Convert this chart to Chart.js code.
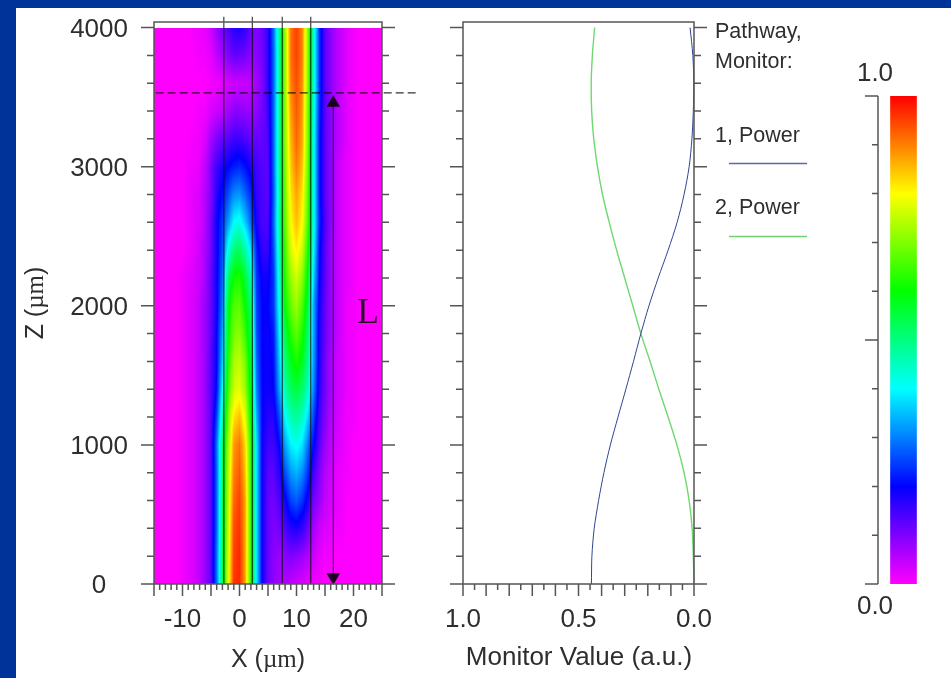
<!DOCTYPE html>
<html>
<head>
<meta charset="utf-8">
<title>Coupler power transfer</title>
<script src="https://cdn.jsdelivr.net/npm/chart.js@4"></script>
<style>
  html, body { margin: 0; height: 100%; background: #003399; overflow: hidden; }
  #panel { position: absolute; left: 16px; top: 8px; right: 0; bottom: 0; background: #fff; }
  canvas { position: absolute; top: 0; filter: blur(0.4px); }
</style>
</head>
<body>
<div id="panel"></div>
<canvas id="field" width="440" height="678" style="left:0"></canvas>
<canvas id="monitor" width="410" height="678" style="left:420px"></canvas>
<canvas id="scale" width="121" height="678" style="left:830px"></canvas>
<script>
// Field map, rows run from z = 0 up to z = 4000, columns from x = -15 to 25 (percent of max)
const heatX = [-15,-14,-13,-12,-11,-10,-9,-8,-7,-6,-5,-4,-3,-2,-1,0,1,2,3,4,5,6,7,8,9,10,11,12,13,14,15,16,17,18,19,20,21,22,23,24,25]
const heatZ = [0,200,400,600,800,1000,1200,1400,1600,1800,2000,2200,2400,2600,2800,3000,3200,3400,3600,3800,4000]
const heatValues = [
  [0,0,0,0,0, 1,2,3,5,8,13,29,53,78,96,97,87,63,38,19,11,9,7,6,5,4,3,2,1,1,0,0,0,0,0,0, 0,0,0,0,0],
  [0,0,0,0,0, 1,2,3,5,8,13,29,53,77,95,97,87,63,38,19,12,9,8,9,10,9,8,6,4,2,1,1,0,0,0,0, 0,0,0,0,0],
  [0,0,0,0,0, 1,2,3,5,8,13,28,52,76,94,96,87,63,38,19,12,10,11,14,17,18,16,12,7,4,3,2,1,1,0,0, 0,0,0,0,0],
  [0,0,0,0,0, 1,2,3,5,8,13,28,52,75,92,95,87,63,38,19,12,11,14,19,25,27,24,18,11,8,5,3,2,1,0,0, 0,0,0,0,0],
  [0,0,0,0,0, 1,2,3,5,8,13,28,51,74,90,93,85,63,38,19,13,13,17,26,32,34,31,24,15,10,6,4,2,1,1,0, 0,0,0,0,0],
  [0,0,0,0,0, 1,2,3,5,8,13,29,51,72,88,91,83,63,38,19,15,15,20,33,39,41,38,29,20,13,8,5,3,2,1,0, 0,0,0,0,0],
  [0,0,0,0,0, 1,2,3,5,8,13,25,46,70,82,85,78,60,34,20,17,17,26,40,46,48,45,37,25,15,10,6,4,2,1,1, 0,0,0,0,0],
  [0,0,0,0,0, 1,2,3,5,8,13,21,40,65,76,78,72,58,30,20,19,20,33,47,53,55,52,45,30,17,11,7,4,3,1,1, 0,0,0,0,0],
  [0,0,0,0,0, 1,2,3,5,8,13,20,36,62,73,75,69,56,28,20,19,21,36,51,58,62,58,49,32,18,11,7,4,3,1,1, 0,0,0,0,0],
  [0,0,0,0,0, 1,2,3,5,8,12,20,33,60,69,71,64,54,26,20,19,22,39,55,63,67,62,52,33,18,12,8,5,3,1,1, 0,0,0,0,0],
  [0,0,0,0,0, 1,2,3,5,8,12,19,30,58,66,67,60,52,25,20,20,24,42,60,68,72,66,55,33,19,12,8,5,3,1,1, 0,0,0,0,0],
  [0,0,0,0,0, 1,2,3,4,7,12,19,28,52,61,62,56,46,24,19,19,24,44,63,72,76,71,58,37,20,13,8,5,3,2,1, 0,0,0,0,0],
  [0,0,0,0,0, 0,1,2,4,7,11,19,26,42,51,53,47,38,22,16,16,26,46,65,77,81,76,62,40,21,13,8,5,3,2,1, 0,0,0,0,0],
  [0,0,0,0,0, 0,1,2,3,6,11,19,24,32,40,42,36,28,18,14,14,28,48,68,80,85,80,66,42,23,14,9,5,3,2,1, 0,0,0,0,0],
  [0,0,0,0,0, 0,1,2,3,6,10,17,21,26,31,32,28,23,16,14,13,27,47,69,82,87,82,67,42,22,13,9,5,3,2,1, 0,0,0,0,0],
  [0,0,0,0,0, 0,1,1,2,5,10,15,18,20,22,23,21,18,15,13,13,28,48,70,84,90,85,68,42,22,13,9,5,3,2,1, 0,0,0,0,0],
  [0,0,0,0,0, 0,0,1,1,3,7,10,12,13,15,15,14,12,12,12,14,28,48,71,86,92,87,69,42,22,13,9,6,4,2,1, 0,0,0,0,0],
  [0,0,0,0,0, 0,0,0,1,1,3,4,5,7,9,9,8,8,9,11,15,28,48,71,88,93,88,69,43,23,13,9,6,4,2,1, 0,0,0,0,0],
  [0,0,0,0,0, 0,0,0,0,0,1,1,2,3,4,4,4,5,7,10,16,28,48,72,90,94,89,70,44,24,13,9,6,4,2,1, 0,0,0,0,0],
  [0,0,0,0,0, 0,0,0,1,1,2,5,7,10,12,12,11,9,9,11,16,28,48,72,91,95,90,70,44,24,13,9,6,4,2,1, 0,0,0,0,0],
  [0,0,0,0,0, 0,0,1,1,2,4,8,11,14,17,18,16,12,10,12,16,29,49,72,91,95,90,70,44,24,13,9,6,4,2,1, 0,0,0,0,0]
]

// Monitor curves, sampled at the same z stations
const power1 = [0.444,0.442,0.432,0.413,0.390,0.362,0.329,0.295,0.262,0.230,0.195,0.155,0.112,0.073,0.043,0.021,0.009,0.003,0.001,0.005,0.017]
const power2 = [0.000,0.003,0.008,0.021,0.043,0.074,0.112,0.152,0.190,0.230,0.265,0.300,0.335,0.367,0.396,0.418,0.434,0.443,0.445,0.440,0.430]

// Overlays on the field map
const guideX = [-2.75, 2.25, 7.5, 12.5]
const guideTop = 4077
const lengthMarkZ = 3530
const lengthMarkX = [-14.7, 30.9]
const arrowX = 16.45
const arrowZ = [49, 3458]

// Axes
const zMajor = [0,1000,2000,3000,4000]
const zMinor = [200,400,600,800,1200,1400,1600,1800,2200,2400,2600,2800,3200,3400,3600,3800]
const xLabels = [-10,0,10,20]
const xMajor = [-15,-10,-5,0,5,10,15,20,25]
const xMinor = [-14,-13,-12,-11,-9,-8,-7,-6,-4,-3,-2,-1,1,2,3,4,6,7,8,9,11,12,13,14,16,17,18,19,21,22,23,24]
const monLabels = [1,0.5,0]
const monMajor = [1,0.9,0.8,0.7,0.6,0.5,0.4,0.3,0.2,0.1,0]
const monMinor = [0.95,0.85,0.75,0.65,0.55,0.45,0.35,0.25,0.15,0.05]
const barMajor = [0,0.5,1]
const barMinor = [0.1,0.2,0.3,0.4,0.6,0.7,0.8,0.9]

// Colour map
const mapStops = [0,0.2,0.4,0.6,0.8,1]
const mapColors = [[255,0,255],[0,0,255],[0,255,255],[0,255,0],[255,255,0],[255,0,0]]

const FONT = '"Liberation Sans", Arial, sans-serif'
const SERIF = '"Liberation Serif", serif'
const AXIS = "#555555"
const TEXT = "#2e2e2e"

function colorFor(v) {
  let i = 0
  while (i < mapStops.length - 2 && v > mapStops[i + 1]) i++
  const t = Math.min(1, Math.max(0, (v - mapStops[i]) / (mapStops[i + 1] - mapStops[i])))
  return mapColors[i].map((c, k) => c + (mapColors[i + 1][k] - c) * t)
}

// value at (x, z), bilinear between the read grid cells
function fieldAt(x, z) {
  const dx = heatX[1] - heatX[0], dz = heatZ[1] - heatZ[0]
  const fx = Math.min(heatX.length - 1.001, Math.max(0, (x - heatX[0]) / dx))
  const fz = Math.min(heatZ.length - 1.001, Math.max(0, (z - heatZ[0]) / dz))
  const c = Math.floor(fx), r = Math.floor(fz)
  const tx = fx - c, tz = fz - r
  const a = heatValues[r][c] * (1 - tx) + heatValues[r][c + 1] * tx
  const b = heatValues[r + 1][c] * (1 - tx) + heatValues[r + 1][c + 1] * tx
  return (a * (1 - tz) + b * tz) / 100
}

const fieldImage = {
  id: "fieldImage",
  beforeDatasetsDraw(chart) {
    const { x, y } = chart.scales
    const left = Math.round(x.getPixelForValue(heatX[0]))
    const right = Math.round(x.getPixelForValue(heatX[heatX.length - 1]))
    const top = Math.round(y.getPixelForValue(heatZ[heatZ.length - 1]))
    const bottom = Math.round(y.getPixelForValue(heatZ[0]))
    const w = right - left, h = bottom - top
    const off = document.createElement("canvas")
    off.width = w
    off.height = h
    const octx = off.getContext("2d")
    const img = octx.createImageData(w, h)
    for (let j = 0; j < h; j++) {
      const z = y.getValueForPixel(top + j + 0.5)
      for (let i = 0; i < w; i++) {
        const rgb = colorFor(fieldAt(x.getValueForPixel(left + i + 0.5), z))
        const p = (j * w + i) * 4
        img.data[p] = rgb[0]
        img.data[p + 1] = rgb[1]
        img.data[p + 2] = rgb[2]
        img.data[p + 3] = 255
      }
    }
    octx.putImageData(img, 0, 0)
    chart.ctx.drawImage(off, left, top)
  }
}

// frame plus tick marks on the sides that need them
function frameMarks(xMarks, yMarks, sides) {
  return {
    id: "frameMarks",
    afterDatasetsDraw(chart) {
      const { ctx, chartArea: a, scales } = chart
      ctx.save()
      ctx.strokeStyle = AXIS
      ctx.lineWidth = 1.5
      ctx.beginPath()
      if (sides.frame) ctx.rect(a.left, a.top, a.right - a.left, a.bottom - a.top)
      else { ctx.moveTo(a.left, a.top); ctx.lineTo(a.left, a.bottom) }
      xMarks.forEach(([vals, len]) => vals.forEach((v) => {
        const p = scales.x.getPixelForValue(v)
        ctx.moveTo(p, a.bottom)
        ctx.lineTo(p, a.bottom + len)
      }))
      yMarks.forEach(([vals, len]) => vals.forEach((v) => {
        const p = scales.y.getPixelForValue(v)
        ctx.moveTo(a.left - len, p)
        ctx.lineTo(a.left, p)
        if (sides.frame) {
          ctx.moveTo(a.right, p)
          ctx.lineTo(a.right + len, p)
        }
      }))
      ctx.stroke()
      ctx.restore()
    }
  }
}

// small text runs, so the unit can switch to the serif micro sign
function drawRuns(ctx, runs, cx, cy, rotate) {
  ctx.save()
  ctx.translate(cx, cy)
  if (rotate) ctx.rotate(-Math.PI / 2)
  ctx.fillStyle = TEXT
  ctx.textBaseline = "middle"
  ctx.textAlign = "left"
  let total = 0
  runs.forEach(([t, f]) => { ctx.font = f; total += ctx.measureText(t).width })
  let at = -total / 2
  runs.forEach(([t, f]) => { ctx.font = f; ctx.fillText(t, at, 0); at += ctx.measureText(t).width })
  ctx.restore()
}

const fieldText = {
  id: "fieldText",
  afterDraw(chart) {
    const ctx = chart.ctx
    const sans = `25px ${FONT}`, ser = `25px ${SERIF}`
    drawRuns(ctx, [["X (", sans], ["\u00b5m", ser], [")", sans]], 268, 660)
    drawRuns(ctx, [["Z (", sans], ["\u00b5m", ser], [")", sans]], 36, 303, true)
    ctx.save()
    ctx.font = `36px ${SERIF}`
    ctx.fillStyle = "#2a0a2a"
    ctx.textAlign = "center"
    ctx.textBaseline = "alphabetic"
    ctx.fillText("L", 368, 323)
    ctx.restore()
  }
}

const monitorText = {
  id: "monitorText",
  afterDraw(chart) {
    const ctx = chart.ctx
    drawRuns(ctx, [["Monitor Value (a.u.)", `26px ${FONT}`]], 159, 658)
    ctx.save()
    ctx.font = `21.5px ${FONT}`
    ctx.fillStyle = TEXT
    ctx.textBaseline = "middle"
    ctx.fillText("Pathway,", 295, 32)
    ctx.fillText("Monitor:", 295, 62)
    ctx.fillText("1, Power", 295, 136)
    ctx.fillText("2, Power", 295, 208)
    ctx.lineWidth = 1.4
    ctx.strokeStyle = "#5a6a9a"
    ctx.beginPath(); ctx.moveTo(309, 163.5); ctx.lineTo(387, 163.5); ctx.stroke()
    ctx.strokeStyle = "#70d070"
    ctx.beginPath(); ctx.moveTo(309, 236.5); ctx.lineTo(387, 236.5); ctx.stroke()
    ctx.restore()
  }
}

const scaleText = {
  id: "scaleText",
  afterDraw(chart) {
    drawRuns(chart.ctx, [["1.0", `26px ${FONT}`]], 45, 74)
    drawRuns(chart.ctx, [["0.0", `26px ${FONT}`]], 45, 607)
  }
}

function baseOptions(padding, yWidth, yExtra, xAxis) {
  return {
    responsive: false,
    animation: false,
    events: [],
    layout: { padding },
    plugins: { legend: { display: false }, tooltip: { enabled: false } },
    scales: {
      x: Object.assign({
        type: "linear",
        position: "bottom",
        grid: { display: false, drawTicks: false },
        border: { display: false },
        afterFit: (s) => { s.height = 94; s.paddingLeft = 0; s.paddingRight = 0 }
      }, xAxis),
      y: Object.assign({
        type: "linear",
        min: 0,
        grid: { display: false, drawTicks: false },
        border: { display: false },
        afterFit: (s) => { s.width = yWidth; s.paddingTop = 0; s.paddingBottom = 0 }
      }, yExtra)
    }
  }
}

function lineSet(data, color, width, extra) {
  return Object.assign({
    data,
    showLine: true,
    borderColor: color,
    borderWidth: width,
    pointRadius: 0,
    clip: false
  }, extra)
}

Chart.defaults.font.family = FONT
Chart.defaults.color = TEXT

const fieldSets = guideX.map((g) => lineSet([{ x: g, y: 0 }, { x: g, y: guideTop }], "rgba(15,15,15,0.8)", 1.2))
fieldSets.push(lineSet(lengthMarkX.map((x) => ({ x, y: lengthMarkZ })), "rgba(0,0,0,0.8)", 1.2, { borderDash: [8, 4] }))
fieldSets.push(lineSet(arrowZ.map((y) => ({ x: arrowX, y })), "rgba(20,0,30,0.7)", 1.2))
fieldSets.push({
  data: arrowZ.map((y) => ({ x: arrowX, y })),
  pointStyle: "triangle",
  pointRadius: 7.8,
  pointRotation: [180, 0],
  backgroundColor: "#1a0020",
  borderWidth: 0,
  clip: false
})

new Chart(document.getElementById("field"), {
  type: "scatter",
  data: { datasets: fieldSets },
  plugins: [fieldImage, frameMarks([[xMajor, 12], [xMinor, 6]], [[zMajor, 13], [zMinor, 7]], { frame: true }), fieldText],
  options: baseOptions(
    { top: 22, right: 58, bottom: 0, left: 0 }, 154,
    {
      max: 4040,
      afterBuildTicks: (s) => { s.ticks = zMajor.map((value) => ({ value })) },
      ticks: { padding: 26, labelOffset: 2, crossAlign: "center", font: { size: 26 }, color: TEXT, callback: (v) => String(v) }
    },
    {
      min: -15,
      max: 25,
      afterBuildTicks: (s) => { s.ticks = xLabels.map((value) => ({ value })) },
      ticks: { padding: 20, maxRotation: 0, autoSkip: false, font: { size: 26 }, color: TEXT, callback: (v) => String(v) }
    }
  )
})

new Chart(document.getElementById("monitor"), {
  type: "scatter",
  data: {
    datasets: [
      lineSet(heatZ.map((y, i) => ({ x: power1[i], y })), "#2f4590", 1, { tension: 0.3 }),
      lineSet(heatZ.map((y, i) => ({ x: power2[i], y })), "#6fd86f", 1.4, { tension: 0.3 })
    ]
  },
  plugins: [frameMarks([[monMajor, 12], [monMinor, 6]], [[zMajor, 13], [zMinor, 7]], { frame: true }), monitorText],
  options: baseOptions(
    { top: 22, right: 136, bottom: 0, left: 0 }, 43,
    {
      max: 4040,
      afterBuildTicks: (s) => { s.ticks = zMajor.map((value) => ({ value })) },
      ticks: { display: false }
    },
    {
      min: 0,
      max: 1,
      reverse: true,
      afterBuildTicks: (s) => { s.ticks = monLabels.map((value) => ({ value })) },
      ticks: { padding: 20, maxRotation: 0, autoSkip: false, font: { size: 26 }, color: TEXT, callback: (v) => v.toFixed(1) }
    }
  )
})

new Chart(document.getElementById("scale"), {
  type: "bar",
  data: {
    labels: ["map"],
    datasets: [{
      data: [[0, 1]],
      barThickness: 26,
      backgroundColor(c) {
        const { chartArea, scales } = c.chart
        if (!chartArea) return "#fff"
        const g = c.chart.ctx.createLinearGradient(0, scales.y.getPixelForValue(0), 0, scales.y.getPixelForValue(1))
        mapStops.forEach((s, i) => g.addColorStop(s, `rgb(${mapColors[i].join(",")})`))
        return g
      }
    }]
  },
  plugins: [frameMarks([], [[barMajor, 13], [barMinor, 6]], { frame: false }), scaleText],
  options: baseOptions(
    { top: 96, right: 22, bottom: 94, left: 0 }, 48,
    {
      max: 1,
      afterBuildTicks: (s) => { s.ticks = barMajor.map((value) => ({ value })) },
      ticks: { display: false }
    },
    { type: "category", display: false, afterFit: undefined }
  )
})
</script>
</body>
</html>
